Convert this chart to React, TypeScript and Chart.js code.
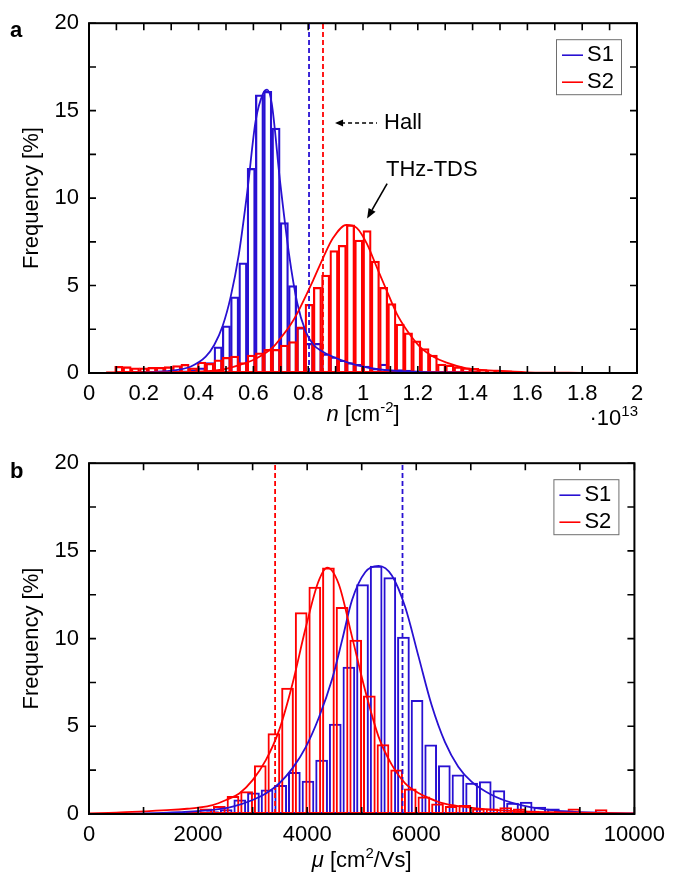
import React, { useEffect, useRef } from 'react';
import { Chart, registerables } from 'chart.js';

Chart.register(...registerables);

const FONT = '"Liberation Sans", Arial, Helvetica, sans-serif';
const BLUE = 'rgb(40, 16, 210)';
const RED = 'rgb(255, 0, 0)';

// ---------- Panel a: carrier density n (x 10^13 cm^-2) ----------
const nBinStart = 0.0635;
const nBinWidth = 0.0302;
const nS1Counts = [
  null, null, null, null, null, 0.04, 0.05, 0.08, 0.1, 0.12,
  0.2, 0.3, 0.6, 1.5, 2.7, 4.35, 6.3, 11.7, 15.9, 16.1,
  14.0, 8.6, 5.0, 2.6, 1.7, 1.7, 1.1, 0.93, 0.74, 0.59,
  0.49, 0.4, 0.27, 0.51, 0.17, 0.2, 0.17, 0.13, 0.08,
];
const nS2Counts = [
  0.08, 0.38, 0.36, 0.3, 0.3, 0.33, 0.33, 0.36, 0.42, 0.5,
  0.3, 0.62, 0.55, 0.75, 0.9, 0.97, 0.6, 1.03, 1.16, 1.35,
  1.35, 1.6, 1.8, 2.64, 3.93, 4.9, 5.6, 7.0, 7.3, 8.47,
  7.6, 8.15, 6.4, 4.9, 3.97, 2.8, 2.3, 1.84, 1.4, 1.03,
  0.51, 0.46, 0.36, 0.3, 0.27, 0.2, 0.15, 0.1, 0.12, 0.08, 0.05,
];
const nS1FitX = [0.10, 0.20, 0.30, 0.37, 0.426, 0.457, 0.488, 0.517, 0.547, 0.578, 0.608, 0.636, 0.650, 0.667, 0.697, 0.730, 0.760, 0.790, 0.820, 0.850, 0.880, 0.940, 1.000, 1.060, 1.180, 1.300, 1.500];
const nS1FitY = [0.00, 0.04, 0.13, 0.36, 0.93, 1.6, 2.7, 4.35, 6.8, 10.4, 14.4, 16.0, 16.2, 15.4, 11.0, 6.8, 4.0, 2.4, 1.6, 1.25, 1.0, 0.62, 0.36, 0.2, 0.08, 0.03, 0.0];
const nS2FitX = [0.06, 0.20, 0.37, 0.49, 0.551, 0.612, 0.673, 0.697, 0.733, 0.758, 0.794, 0.818, 0.855, 0.890, 0.940, 0.977, 1.014, 1.050, 1.086, 1.123, 1.160, 1.208, 1.257, 1.305, 1.378, 1.490, 1.600, 1.800, 2.000];
const nS2FitY = [0.0, 0.03, 0.06, 0.2, 0.46, 0.84, 1.5, 1.95, 2.7, 3.35, 4.5, 5.3, 6.6, 7.7, 8.47, 8.3, 7.4, 6.06, 4.73, 3.4, 2.45, 1.5, 0.93, 0.59, 0.27, 0.13, 0.04, 0.01, 0.0];
const nHallS1 = 0.803;
const nHallS2 = 0.854;

// ---------- Panel b: mobility mu (cm^2/Vs) ----------
const muS1BinStart = 1640;
const muS2BinStart = 1515;
const muBinWidth = 250;
const muS1Counts = [
  0.05, 0.1, 0.15, 0.27, 0.83, 1.23, 1.4, 1.65, 2.39, 1.9,
  3.1, 5.15, 8.4, 13.1, 14.15, 13.5, 10.1, 6.5, 3.96, 2.78,
  2.25, 1.78, 1.87, 1.36, 0.64, 0.7, 0.42, 0.32, 0.2, 0.12,
  0.08, 0.05,
];
const muS2Counts = [
  0.05, 0.12, 0.32, 0.45, 1.02, 1.3, 2.78, 4.6, 7.2, 11.5,
  12.95, 14.05, 11.8, 9.94, 6.76, 3.98, 2.54, 1.46, 1.0, 0.6,
  0.45, 0.51, 0.32, 0.32, 0.38, 0.32, 0.19, 0.13, 0.19, 0.32,
  0.08, 0.27,
];
const muS1FitX = [0, 1000, 1660, 2268, 2633, 3000, 3242, 3485, 3729, 3972, 4215, 4458, 4640, 4823, 5067, 5310, 5553, 5797, 6040, 6283, 6527, 6770, 7013, 7378, 7743, 8230, 8838, 10000];
const muS1FitY = [0.0, 0.03, 0.1, 0.23, 0.42, 0.8, 1.17, 1.74, 2.6, 3.8, 5.5, 7.7, 9.9, 12.2, 13.8, 14.15, 13.6, 11.8, 9.0, 6.2, 4.1, 2.7, 1.85, 1.1, 0.65, 0.32, 0.13, 0.03];
const muS2FitX = [0, 500, 1000, 1500, 1800, 2000, 2268, 2512, 2755, 3000, 3242, 3485, 3729, 3972, 4200, 4368, 4580, 4823, 5067, 5310, 5553, 5797, 6040, 6223, 6500, 6830, 7440, 8047, 8960, 10000];
const muS2FitY = [0.04, 0.08, 0.15, 0.23, 0.3, 0.36, 0.51, 0.8, 1.17, 1.93, 3.07, 4.77, 7.4, 10.6, 13.2, 14.05, 13.1, 10.1, 7.0, 4.4, 2.8, 1.75, 1.2, 0.92, 0.6, 0.42, 0.23, 0.13, 0.07, 0.04];
const muHallS1 = 5748;
const muHallS2 = 3412;

const Y_MAX = 20;

const font = (size: number, style = '', weight = '') => `${style} ${weight} ${size}px ${FONT}`.trim();

function bins(start: number, width: number, counts: (number | null)[]) {
  const out: { x: number; y: number }[] = [];
  counts.forEach((c, i) => {
    if (c != null && c > 0) out.push({ x: start + width * (i + 0.5), y: c });
  });
  return out;
}
function zip(xs: number[], ys: number[]) {
  return xs.map((x, i) => ({ x, y: ys[i] }));
}

function drawRich(ctx: any, parts: any[], x: number, y: number, align: string) {
  let w = 0;
  for (const p of parts) { ctx.font = p.font; w += ctx.measureText(p.text).width; }
  let cx = align === 'center' ? x - w / 2 : align === 'right' ? x - w : x;
  ctx.textAlign = 'left';
  ctx.textBaseline = 'alphabetic';
  for (const p of parts) {
    ctx.font = p.font;
    ctx.fillText(p.text, cx, y + (p.dy || 0));
    cx += ctx.measureText(p.text).width;
  }
}

function overlay(spec: any) {
  return {
    id: 'overlay',
    afterDatasetsDraw(chart: any) {
      const { ctx, chartArea: ca } = chart;
      const xs = chart.scales.x;
      const ys = chart.scales.y;
      const TL = 7;
      ctx.save();
      ctx.strokeStyle = '#000';
      ctx.lineWidth = 1.6;
      ctx.beginPath();
      for (let i = 0; i < xs.ticks.length; i++) {
        const px = xs.getPixelForTick(i);
        ctx.moveTo(px, ca.bottom); ctx.lineTo(px, ca.bottom - TL);
        ctx.moveTo(px, ca.top); ctx.lineTo(px, ca.top + TL);
      }
      for (let i = 0; i < ys.ticks.length; i++) {
        const py = ys.getPixelForTick(i);
        ctx.moveTo(ca.left, py); ctx.lineTo(ca.left + TL, py);
        ctx.moveTo(ca.right, py); ctx.lineTo(ca.right - TL, py);
      }
      ctx.stroke();
      ctx.lineWidth = 2;
      ctx.strokeRect(ca.left, ca.top, ca.right - ca.left, ca.bottom - ca.top);

      // legend
      const items = chart.data.datasets.filter((d: any) => d.inLegend);
      const bw = 65, bh = 55;
      const bx = ca.right - 16 - bw, by = ca.top + 16;
      ctx.fillStyle = '#fff';
      ctx.fillRect(bx, by, bw, bh);
      ctx.strokeStyle = '#6e6e6e';
      ctx.lineWidth = 1;
      ctx.strokeRect(bx + 0.5, by + 0.5, bw, bh);
      items.forEach((d: any, i: number) => {
        const cy = by + 16 + i * 27;
        ctx.strokeStyle = d.borderColor;
        ctx.lineWidth = 1.6;
        ctx.beginPath(); ctx.moveTo(bx + 6, cy); ctx.lineTo(bx + 27, cy); ctx.stroke();
        ctx.fillStyle = '#000';
        ctx.font = font(22);
        ctx.textAlign = 'left';
        ctx.textBaseline = 'middle';
        ctx.fillText(d.label, bx + 31, cy);
      });
      ctx.restore();
    },
    afterDraw(chart: any) {
      const { ctx, chartArea: ca } = chart;
      ctx.save();
      ctx.fillStyle = '#000';
      ctx.strokeStyle = '#000';
      // panel letter
      ctx.font = font(22, '', 'bold');
      ctx.textAlign = 'left';
      ctx.textBaseline = 'alphabetic';
      ctx.fillText(spec.letter, 10, spec.letterY);
      // x title
      drawRich(ctx, spec.xTitle, (ca.left + ca.right) / 2, ca.bottom + spec.xTitleDy, 'center');
      if (spec.xExp) drawRich(ctx, spec.xExp, ca.right + 1, ca.bottom + 52, 'right');
      if (spec.annotate) spec.annotate(chart, ctx);
      ctx.restore();
    },
  };
}

function annotateA(chart: any, ctx: any) {
  const xs = chart.scales.x, ys = chart.scales.y;
  // Hall arrow (dashed)
  const hx = xs.getPixelForValue(0.898), hy = ys.getPixelForValue(14.3);
  const hEnd = xs.getPixelForValue(1.051);
  ctx.lineWidth = 1.5;
  ctx.setLineDash([4, 3]);
  ctx.beginPath(); ctx.moveTo(hx + 6, hy); ctx.lineTo(hEnd, hy); ctx.stroke();
  ctx.setLineDash([]);
  ctx.beginPath(); ctx.moveTo(hx, hy); ctx.lineTo(hx + 8, hy - 3.5); ctx.lineTo(hx + 8, hy + 3.5); ctx.closePath(); ctx.fill();
  ctx.font = font(22);
  ctx.textAlign = 'left';
  ctx.textBaseline = 'middle';
  ctx.fillText('Hall', xs.getPixelForValue(1.077), hy);
  // THz-TDS arrow
  ctx.fillText('THz-TDS', xs.getPixelForValue(1.084), ys.getPixelForValue(11.62));
  const x0 = xs.getPixelForValue(1.088), y0 = ys.getPixelForValue(10.83);
  const x1 = xs.getPixelForValue(1.015), y1 = ys.getPixelForValue(8.83);
  const ang = Math.atan2(y1 - y0, x1 - x0);
  const L = 10, W = 4;
  const bxp = x1 - L * Math.cos(ang), byp = y1 - L * Math.sin(ang);
  ctx.lineWidth = 1.6;
  ctx.beginPath(); ctx.moveTo(x0, y0); ctx.lineTo(bxp, byp); ctx.stroke();
  ctx.beginPath();
  ctx.moveTo(x1, y1);
  ctx.lineTo(bxp + W * Math.sin(ang), byp - W * Math.cos(ang));
  ctx.lineTo(bxp - W * Math.sin(ang), byp + W * Math.cos(ang));
  ctx.closePath(); ctx.fill();
}

function makeConfig(spec: any) {
  const tickFont = { size: 22, family: FONT };
  const lineDs = (label: string, data: any, color: string, order: number, legend: boolean) => ({
    type: 'line', label, data, borderColor: color, borderWidth: 1.8, pointRadius: 0, pointHoverRadius: 0,
    cubicInterpolationMode: 'monotone', fill: false, xAxisID: 'x', yAxisID: 'y', order, inLegend: legend,
  });
  const dashDs = (label: string, xv: number, color: string) => ({
    type: 'line', label, data: [{ x: xv, y: 0 }, { x: xv, y: Y_MAX }], borderColor: color, borderWidth: 1.8,
    borderDash: [5, 3], pointRadius: 0, pointHoverRadius: 0, xAxisID: 'x', yAxisID: 'y', order: 2,
  });
  const barDs = (label: string, data: any, color: string, axis: string, order: number) => ({
    type: 'bar', label, data, borderColor: color, backgroundColor: 'rgba(0,0,0,0)', borderWidth: spec.barBorder,
    borderSkipped: false, grouped: false, categoryPercentage: 1, barPercentage: spec.barPct,
    xAxisID: axis, yAxisID: 'y', order,
  });
  return {
    type: 'bar',
    data: {
      datasets: [
        lineDs('S1', spec.fit1, BLUE, 1, true),
        lineDs('S2', spec.fit2, RED, 0, true),
        dashDs('Hall S1', spec.hall1, BLUE),
        dashDs('Hall S2', spec.hall2, RED),
        barDs('S1 histogram', spec.bars1, BLUE, 'x', 4),
        barDs('S2 histogram', spec.bars2, RED, 'x2', 3),
      ],
    },
    options: {
      responsive: true,
      maintainAspectRatio: false,
      animation: false,
      events: [],
      devicePixelRatio: 1,
      layout: { padding: { left: 0, right: 36, top: 22, bottom: 0 } },
      plugins: { legend: { display: false }, tooltip: { enabled: false }, title: { display: false } },
      scales: {
        x: {
          type: 'linear', position: 'bottom', min: spec.xMin, max: spec.xMax, offset: false,
          grid: { display: false, drawTicks: false, offset: false },
          border: { display: false },
          ticks: {
            stepSize: spec.xStep, autoSkip: false, maxRotation: 0, minRotation: 0, padding: 8,
            color: '#000', font: tickFont, callback: spec.xLabel,
          },
          afterFit: (s: any) => { s.height = spec.xAxisH; },
        },
        x2: {
          type: 'linear', position: 'bottom', min: spec.xMin, max: spec.xMax, offset: false, display: false,
          grid: { offset: false },
        },
        y: {
          type: 'linear', position: 'left', min: 0, max: Y_MAX,
          grid: { display: false, drawTicks: false },
          border: { display: false },
          ticks: {
            stepSize: 2.5, autoSkip: false, padding: 10, color: '#000', font: tickFont,
            callback: (v: number) => { const r = Math.round(v * 2); return r % 10 === 0 ? String(r / 2) : ''; },
          },
          title: { display: true, text: 'Frequency [%]', color: '#000', font: { size: 22, family: FONT }, padding: { top: 19, bottom: 0 } },
          afterFit: (s: any) => { s.width = 89; },
        },
      },
    },
    plugins: [overlay(spec)],
  };
}

const panelA = {
  letter: 'a', letterY: 37,
  xMin: 0, xMax: 2, xStep: 0.1, xAxisH: 67, barPct: 1, barBorder: 1.6,
  xLabel: (v: number) => { const r = Math.round(v * 10); return r % 2 === 0 ? String(r / 10) : ''; },
  bars1: bins(nBinStart, nBinWidth, nS1Counts),
  bars2: bins(nBinStart, nBinWidth, nS2Counts),
  fit1: zip(nS1FitX, nS1FitY),
  fit2: zip(nS2FitX, nS2FitY),
  hall1: nHallS1, hall2: nHallS2,
  xTitleDy: 48,
  xTitle: [
    { text: 'n', font: font(22, 'italic') },
    { text: ' [cm', font: font(22) },
    { text: '-2', font: font(15), dy: -9 },
    { text: ']', font: font(22) },
  ],
  xExp: [
    { text: '·10', font: font(22) },
    { text: '13', font: font(15), dy: -9 },
  ],
  annotate: annotateA,
};

const panelB = {
  letter: 'b', letterY: 38,
  xMin: 0, xMax: 10000, xStep: 1000, xAxisH: 61, barPct: 0.93, barBorder: 2,
  xLabel: (v: number) => (Math.round(v) % 2000 === 0 ? String(Math.round(v)) : ''),
  bars1: bins(muS1BinStart, muBinWidth, muS1Counts),
  bars2: bins(muS2BinStart, muBinWidth, muS2Counts),
  fit1: zip(muS1FitX, muS1FitY),
  fit2: zip(muS2FitX, muS2FitY),
  hall1: muHallS1, hall2: muHallS2,
  xTitleDy: 53,
  xTitle: [
    { text: 'μ', font: font(22, 'italic') },
    { text: ' [cm', font: font(22) },
    { text: '2', font: font(15), dy: -9 },
    { text: '/Vs]', font: font(22) },
  ],
  xExp: null,
  annotate: null,
};

export default function App() {
  const topRef = useRef<HTMLCanvasElement>(null);
  const botRef = useRef<HTMLCanvasElement>(null);
  useEffect(() => {
    const c1 = new Chart(topRef.current as any, makeConfig(panelA) as any);
    const c2 = new Chart(botRef.current as any, makeConfig(panelB) as any);
    return () => { c1.destroy(); c2.destroy(); };
  }, []);
  return (
    <div style={{ position: 'absolute', left: 0, top: 0, width: 673, height: 875, background: '#fff' }}>
      <div style={{ position: 'absolute', left: 0, top: 0, width: 673, height: 440 }}>
        <canvas ref={topRef} />
      </div>
      <div style={{ position: 'absolute', left: 0, top: 440, width: 673, height: 435 }}>
        <canvas ref={botRef} />
      </div>
    </div>
  );
}
